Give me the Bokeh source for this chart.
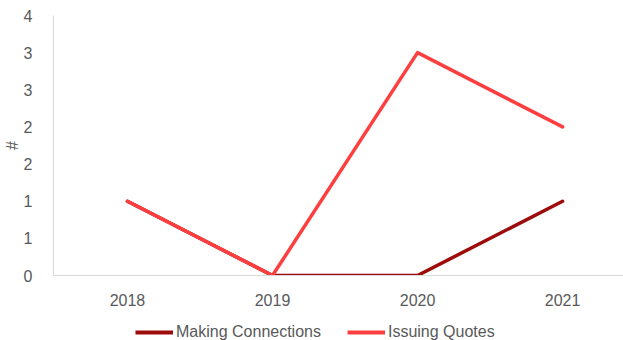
from bokeh.plotting import figure
from bokeh.layouts import column
from bokeh.models import Range1d, FixedTicker, Legend, LegendItem
from bokeh.embed import file_html
from bokeh.resources import INLINE

years = ["2018", "2019", "2020", "2021"]
making_connections = [1, 0, 0, 1]
issuing_quotes = [1, 0, 3, 2]
y_ticks = [0, 0.5, 1, 1.5, 2, 2.5, 3, 3.5]
y_tick_labels = ["0", "1", "1", "2", "2", "3", "3", "4"]
series_names = ["Making Connections", "Issuing Quotes"]
series_colors = ["#9e0b0b", "#ff3f3f"]

FONT = "Liberation Sans"
TEXT = "#595959"
AXIS = "#d9d9d9"

x = list(range(len(years)))
series = [making_connections, issuing_quotes]

p = figure(width=623, height=308, output_backend="svg", toolbar_location=None,
           x_range=Range1d(-0.51, 3.42), y_range=Range1d(0, 3.5),
           min_border_left=53, min_border_right=0, min_border_top=15, min_border_bottom=33)
p.outline_line_color = None
p.xgrid.visible = False
p.ygrid.visible = False
p.background_fill_color = "white"
p.border_fill_color = "white"

for vals, col in zip(series, series_colors):
    p.line(x, vals, line_color=col, line_width=3.5, line_cap="round", line_join="round")

xa = p.xaxis[0]
xa.ticker = FixedTicker(ticks=x)
xa.major_label_overrides = {i: y for i, y in zip(x, years)}
xa.axis_line_color = AXIS
xa.major_tick_line_color = None
xa.minor_tick_line_color = None
xa.major_label_text_font = FONT
xa.major_label_text_font_size = "16px"
xa.major_label_text_color = TEXT
xa.major_label_standoff = 12

ya = p.yaxis[0]
ya.ticker = FixedTicker(ticks=y_ticks)
ya.major_label_overrides = {t: l for t, l in zip(y_ticks, y_tick_labels)}
ya.axis_line_color = AXIS
ya.major_tick_line_color = None
ya.minor_tick_line_color = None
ya.major_label_text_font = FONT
ya.major_label_text_font_size = "16px"
ya.major_label_text_color = TEXT
ya.major_label_standoff = 15
ya.axis_label = "#"
ya.axis_label_text_font = FONT
ya.axis_label_text_font_size = "16px"
ya.axis_label_text_font_style = "normal"
ya.axis_label_text_color = TEXT
ya.axis_label_standoff = 0

# legend strip below the chart (its lines lie outside its own visible range)
q = figure(width=623, height=32, output_backend="svg", toolbar_location=None,
           x_range=Range1d(100, 101), y_range=Range1d(100, 101), min_border=0)
q.axis.visible = False
q.grid.visible = False
q.outline_line_color = None
items = []
for name, vals, col in zip(series_names, series, series_colors):
    r = q.line(x, vals, line_color=col, line_width=4, line_cap="butt")
    items.append(LegendItem(label=name, renderers=[r]))
legend = Legend(items=items, orientation="horizontal", location=(82, -1),
                glyph_width=38, glyph_height=16, label_height=16,
                label_standoff=3, spacing=26, padding=0, margin=0,
                border_line_color=None, background_fill_alpha=0,
                label_text_font=FONT, label_text_font_size="16px",
                label_text_color=TEXT)
q.add_layout(legend, "center")

open("out.html", "w").write(file_html(column(p, q, spacing=0), INLINE))
